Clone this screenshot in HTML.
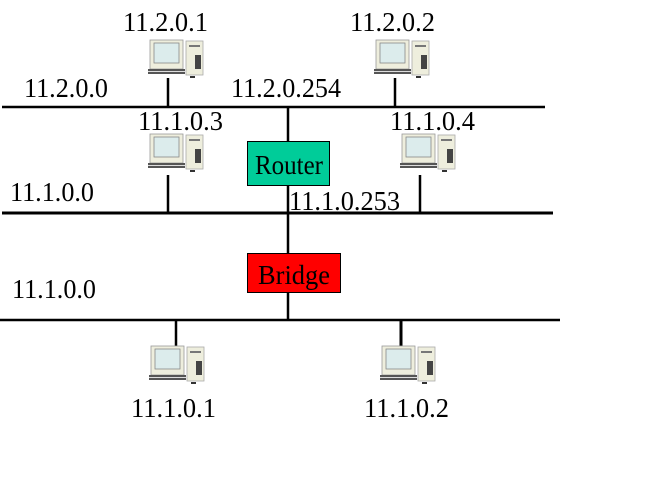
<!DOCTYPE html>
<html><head><meta charset="utf-8"><style>
html,body{margin:0;padding:0;background:#fff;}
svg{display:block;}
text{font-family:"Liberation Serif",serif;font-size:27px;fill:#000;}
</style></head><body>
<svg width="661" height="501" viewBox="0 0 661 501">
<defs>
<g id="pc">
  <rect x="0" y="0" width="33" height="29" fill="#eeeedd" stroke="#999" stroke-width="0.8"/>
  <rect x="4" y="3" width="25" height="20" fill="#dcecec" stroke="#888" stroke-width="0.8"/>
  <rect x="36" y="1" width="17" height="34" fill="#eeeedd" stroke="#aaa" stroke-width="0.8"/>
  <rect x="39" y="5" width="11" height="2" fill="#777"/>
  <rect x="45" y="15" width="6" height="14" fill="#444"/>
  <rect x="-2" y="29" width="37" height="5" fill="#555"/>
  <rect x="-2" y="31" width="37" height="1" fill="#ddd"/>
  <rect x="40" y="36" width="5" height="2" fill="#333"/>
</g>
</defs>
<g stroke="#000" stroke-width="2.5" fill="none">
  <line x1="2" y1="107" x2="545" y2="107"/>
  <line x1="2" y1="213" x2="553" y2="213" stroke-width="3"/>
  <line x1="0" y1="320" x2="560" y2="320"/>
  <line x1="168" y1="78" x2="168" y2="107"/>
  <line x1="395" y1="78" x2="395" y2="107"/>
  <line x1="288" y1="107" x2="288" y2="141"/>
  <line x1="288" y1="185" x2="288" y2="253"/>
  <line x1="168" y1="175" x2="168" y2="213"/>
  <line x1="420" y1="175" x2="420" y2="213"/>
  <line x1="288" y1="292" x2="288" y2="320"/>
  <line x1="176" y1="320" x2="176" y2="346"/>
  <line x1="401" y1="320" x2="401" y2="346" stroke-width="3"/>
</g>
<use href="#pc" x="150" y="40"/>
<use href="#pc" x="376" y="40"/>
<use href="#pc" x="150" y="134"/>
<use href="#pc" x="402" y="134"/>
<use href="#pc" x="151" y="346"/>
<use href="#pc" x="382" y="346"/>
<rect x="247.5" y="141.5" width="82" height="44" fill="#00cc99" stroke="#000" stroke-width="1"/>
<text x="255" y="174" textLength="68" lengthAdjust="spacingAndGlyphs">Router</text>
<rect x="247.5" y="253.5" width="93" height="39" fill="#ff0000" stroke="#000" stroke-width="1"/>
<text x="258" y="284" textLength="72" lengthAdjust="spacingAndGlyphs">Bridge</text>
<text x="123" y="31" textLength="85" lengthAdjust="spacingAndGlyphs">11.2.0.1</text>
<text x="350" y="31" textLength="85" lengthAdjust="spacingAndGlyphs">11.2.0.2</text>
<text x="24" y="97" textLength="84" lengthAdjust="spacingAndGlyphs">11.2.0.0</text>
<text x="231" y="97" textLength="110" lengthAdjust="spacingAndGlyphs">11.2.0.254</text>
<text x="138" y="130" textLength="85" lengthAdjust="spacingAndGlyphs">11.1.0.3</text>
<text x="390" y="130" textLength="85" lengthAdjust="spacingAndGlyphs">11.1.0.4</text>
<text x="10" y="201" textLength="84" lengthAdjust="spacingAndGlyphs">11.1.0.0</text>
<text x="289" y="210" textLength="111" lengthAdjust="spacingAndGlyphs">11.1.0.253</text>
<text x="12" y="298" textLength="84" lengthAdjust="spacingAndGlyphs">11.1.0.0</text>
<text x="131" y="417" textLength="85" lengthAdjust="spacingAndGlyphs">11.1.0.1</text>
<text x="364" y="417" textLength="85" lengthAdjust="spacingAndGlyphs">11.1.0.2</text>
</svg>
</body></html>
